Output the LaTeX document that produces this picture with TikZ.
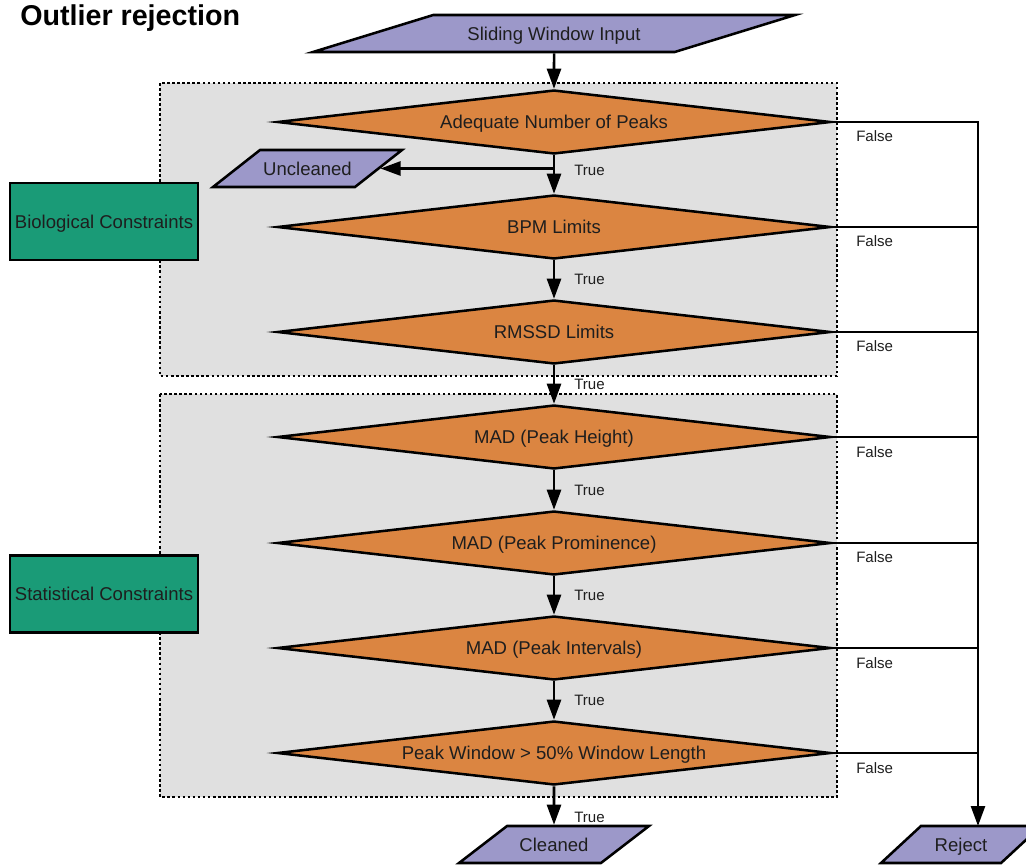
\documentclass[tikz,border=0pt]{standalone}
\usepackage{fontspec}
\setmainfont{Liberation Sans}
\usetikzlibrary{shapes.geometric,arrows.meta}
\definecolor{dia}{HTML}{DB8541}
\definecolor{par}{HTML}{9C98C9}
\definecolor{grn}{HTML}{1A9B77}
\definecolor{bg}{HTML}{E0E0E0}
\definecolor{ink}{HTML}{1E1E1E}
\begin{document}
\begin{tikzpicture}[x=0.75pt,y=-0.75pt,
  txt/.style={font=\fontsize{13.9}{16}\selectfont, text=ink, text height=9.95pt, text depth=0pt},
  dec/.style={diamond, aspect=8.78, draw, fill=dia, line width=1.9pt, minimum width=415pt, minimum height=48pt, inner sep=0pt, txt},
  io/.style={trapezium, trapezium stretches body=true, draw, fill=par, line width=1.9pt, inner xsep=0pt, inner ysep=8.9pt, txt},
  grp/.style={rectangle, draw, fill=grn, line width=1.9pt, minimum width=141pt, minimum height=57.75pt, inner sep=0pt, txt},
  lbl/.style={font=\fontsize{11.3}{13}\selectfont, text=ink, anchor=west, inner sep=0pt},
  arr/.style={line width=1.9pt, -{Triangle[length=15pt,width=10.5pt]}},
  ln/.style={line width=1.9pt},
  region/.style={fill=bg, draw, line width=1.9pt, dash pattern=on 1.9pt off 1.9pt}
]
\useasboundingbox (0,0) rectangle (1026,865);
\clip (0,0) rectangle (1026,865);

% title
\node[anchor=base west, inner sep=0pt, font=\fontsize{21.5}{24}\selectfont\bfseries] (title) at (20,25) {Outlier rejection};

% regions
\path[region] (160,83) rectangle (837,376);
\path[region] (160,394) rectangle (837,797);

% group labels
\node[grp] (bio) at (104,221.5) {Biological Constraints};
\node[grp] (stat) at (104,594) {Statistical Constraints};

% input / output nodes
\node[io, minimum width=361.5pt, trapezium left angle=17.1, trapezium right angle=162.9] (in) at (554,33.5) {Sliding Window Input};
\node[io, minimum width=141.75pt, trapezium left angle=38.2, trapezium right angle=141.8] (unc) at (307.5,168.5) {Uncleaned};
\node[io, minimum width=142.5pt, trapezium left angle=37.6, trapezium right angle=142.4] (cln) at (554,844.5) {Cleaned};
\node[io, minimum width=120pt, trapezium left angle=42.8, trapezium right angle=137.2] (rej) at (961,844.5) {Reject};

% decisions
\node[dec] (d1) at (554,122) {Adequate Number of Peaks};
\node[dec] (d2) at (554,227) {BPM Limits};
\node[dec] (d3) at (554,332) {RMSSD Limits};
\node[dec] (d4) at (554,437) {MAD (Peak Height)};
\node[dec] (d5) at (554,543) {MAD (Peak Prominence)};
\node[dec] (d6) at (554,648) {MAD (Peak Intervals)};
\node[dec] (d7) at (554,753) {Peak Window > 50\% Window Length};

% main flow
\draw[arr] (in.south) -- (d1.north);
\draw[arr] (d1.south) -- (d2.north);
\draw[arr] (d2.south) -- (d3.north);
\draw[arr] (d3.south) -- (d4.north);
\draw[arr] (d4.south) -- (d5.north);
\draw[arr] (d5.south) -- (d6.north);
\draw[arr] (d6.south) -- (d7.north);
\draw[arr] (d7.south) -- (cln.north);
\draw[arr] (d1.south |- unc.east) -- (unc.east);

% reject flow
\coordinate (rtop) at (978,826);
\draw[arr] (d1.east) -- (d1.east -| rtop) -- (rtop);
\foreach \d in {d2,d3,d4,d5,d6,d7}{
  \draw[ln] (\d.east) -- (\d.east -| rtop);
}

% labels
\node[lbl] (t1) at (574,170) {True};
\node[lbl] (t2) at (574,279) {True};
\node[lbl] (t3) at (574,384) {True};
\node[lbl] (t4) at (574,490) {True};
\node[lbl] (t5) at (574,595) {True};
\node[lbl] (t6) at (574,700) {True};
\node[lbl] (t7) at (574,817) {True};
\node[lbl] (f1) at (856,136) {False};
\node[lbl] (f2) at (856,241) {False};
\node[lbl] (f3) at (856,346) {False};
\node[lbl] (f4) at (856,452) {False};
\node[lbl] (f5) at (856,557) {False};
\node[lbl] (f6) at (856,663) {False};
\node[lbl] (f7) at (856,768) {False};
\end{tikzpicture}
\end{document}
